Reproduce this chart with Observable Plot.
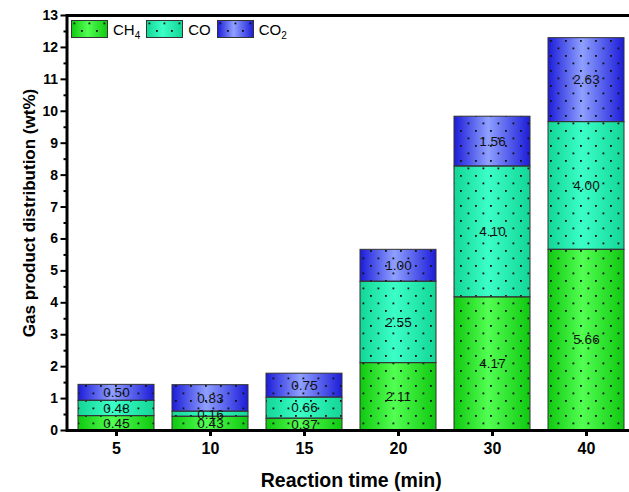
<!DOCTYPE html>
<html>
<head>
<meta charset="utf-8">
<script src="https://cdn.jsdelivr.net/npm/d3@7"></script>
<script src="https://cdn.jsdelivr.net/npm/@observablehq/plot@0.6"></script>
<style>
  body { margin: 0; background: #fff; font-family: Arial, "Liberation Sans", sans-serif; }
  #wrap { position: relative; width: 629px; height: 492px; overflow: hidden; }
  #legend { position: absolute; left: 71px; top: 20px; display: flex; align-items: center; font-size: 15px; color: #000; }
  #legend .item { display: flex; align-items: center; margin-right: 6px; }
  #legend svg { display: block; margin-right: 5px; }
  #legend sub { font-size: 10px; vertical-align: -4px; line-height: 0; }
</style>
</head>
<body>
<div id="wrap"></div>
<script>
const times = ["5", "10", "15", "20", "30", "40"];
const series = ["CH4", "CO", "CO2"];
const seriesLabels = ["CH<sub>4</sub>", "CO", "CO<sub>2</sub>"];
const ch4 = [0.45, 0.43, 0.37, 2.11, 4.17, 5.66];
const co = [0.48, 0.16, 0.66, 2.55, 4.10, 4.00];
const co2 = [0.50, 0.83, 0.75, 1.00, 1.56, 2.63];
const yTicks = [0,1,2,3,4,5,6,7,8,9,10,11,12,13];
const yMinor = [0.5,1.5,2.5,3.5,4.5,5.5,6.5,7.5,8.5,9.5,10.5,11.5,12.5];
const gradIds = ["gCH4", "gCO", "gCO2"];
const gradColors = [
  ["#10c810", "#52ff52"],
  ["#12d596", "#3cffc8"],
  ["#1c1cd8", "#8fa0ff"]
];

const values = [ch4, co, co2];
const data = [];
times.forEach((t, i) => {
  series.forEach((s, j) => data.push({time: t, series: s, value: values[j][i]}));
});

const FONT = 'Arial, "Liberation Sans", sans-serif';

const chart = Plot.plot({
  width: 629,
  height: 492,
  marginLeft: 66.5,
  marginRight: 0,
  marginTop: 15,
  marginBottom: 62,
  style: {fontFamily: FONT, fontSize: "14px", color: "#000", background: "#fff", overflow: "visible"},
  x: {domain: times, range: [66.5, 636.5], paddingInner: 0.19, paddingOuter: 0.1, label: null},
  y: {domain: [0, 13], label: null},
  color: {domain: series, range: gradIds.map(id => `url(#${id})`)},
  marks: [
    Plot.barY(data, Plot.stackY({x: "time", y: "value", fill: "series"})),
    Plot.barY(data, Plot.stackY({x: "time", y: "value", fill: "url(#dots)", stroke: "#333", strokeWidth: 1})),
    Plot.text(data, Plot.stackY({x: "time", y: "value", text: d => d.value.toFixed(2), fontSize: 13.5, fontWeight: "normal", fill: "#111"})),
    Plot.ruleY([0], {stroke: "#000", strokeWidth: 3}),
    Plot.ruleY([13], {stroke: "#000", strokeWidth: 3}),
    Plot.frame({anchor: "left", stroke: "#000", strokeWidth: 3}),
    Plot.axisY({ticks: yTicks, tickSize: 6, tickPadding: 3, strokeWidth: 2, fontSize: 14, fontWeight: "bold", label: null}),
    Plot.axisY({ticks: yMinor, tickSize: 3, strokeWidth: 2, tickFormat: () => "", label: null}),
    Plot.axisX({tickSize: 6, tickPadding: 6, strokeWidth: 3, fontSize: 16, fontWeight: "bold", label: null}),
    Plot.text(["Gas product distribution (wt%)"], {frameAnchor: "left", textAnchor: "middle", lineAnchor: "middle", dx: -37.5, dy: -10, rotate: -90, fontSize: 17, fontWeight: "bold", text: d => d}),
    Plot.text(["Reaction time (min)"], {frameAnchor: "bottom", textAnchor: "middle", lineAnchor: "middle", dy: 50, dx: 3, fontSize: 19.5, fontWeight: "bold", text: d => d})
  ]
});

// gradient and dot pattern definitions
const defs = d3.select(chart).insert("defs", ":first-child");
gradIds.forEach((id, i) => {
  const g = defs.append("linearGradient").attr("id", id).attr("x1", 0).attr("x2", 1).attr("y1", 0).attr("y2", 0);
  g.append("stop").attr("offset", 0).attr("stop-color", gradColors[i][0]);
  g.append("stop").attr("offset", 0.45).attr("stop-color", gradColors[i][1]);
  g.append("stop").attr("offset", 1).attr("stop-color", gradColors[i][0]);
});
const pat = defs.append("pattern").attr("id", "dots").attr("patternUnits", "userSpaceOnUse")
  .attr("width", 15).attr("height", 15);
pat.append("rect").attr("x", 2.5).attr("y", 2.5).attr("width", 1.8).attr("height", 1.8).attr("fill", "#111");
pat.append("rect").attr("x", 10).attr("y", 10).attr("width", 1.8).attr("height", 1.8).attr("fill", "#111");

const wrap = document.getElementById("wrap");
wrap.appendChild(chart);

// legend
const legend = document.createElement("div");
legend.id = "legend";
series.forEach((s, i) => {
  const item = document.createElement("div");
  item.className = "item";
  item.innerHTML = `<svg width="37" height="18"><rect x="0.5" y="0.5" width="36" height="17" fill="url(#${gradIds[i]})" stroke="#333"/><rect x="0.5" y="0.5" width="36" height="17" fill="url(#dots)" stroke="#333"/></svg><span>${seriesLabels[i]}</span>`;
  legend.appendChild(item);
});
wrap.appendChild(legend);
</script>
</body>
</html>
